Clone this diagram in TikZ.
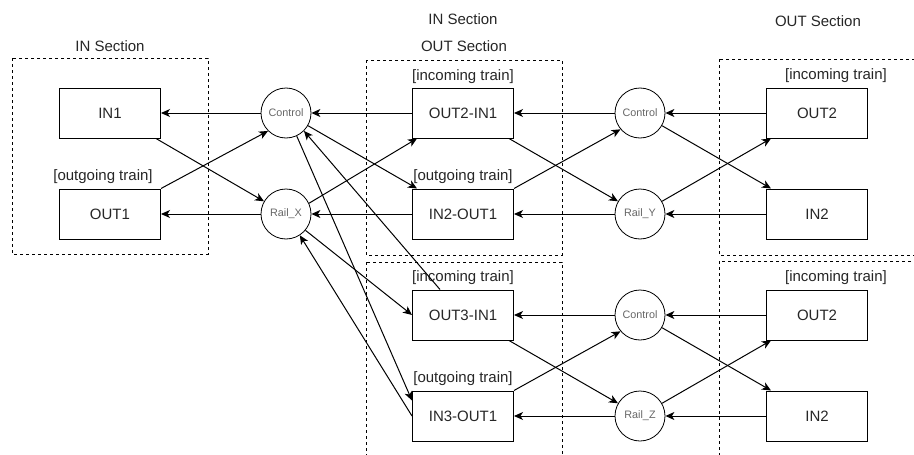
\documentclass[tikz,border=0pt]{standalone}
\usepackage{fontspec}
\setmainfont{Liberation Sans}
\usetikzlibrary{arrows.meta}
\begin{document}
\begin{tikzpicture}[x=1pt,y=-1pt,
  box/.style={draw, line width=1pt, minimum width=101pt, minimum height=50pt, inner sep=0pt,
    font=\fontsize{15}{18}\selectfont, text=black!85},
  hub/.style={draw, circle, line width=0.8pt, minimum size=50pt, inner sep=0pt,
    font=\fontsize{10.8}{12}\selectfont, text=black!60},
  section/.style={draw, dash pattern=on 3pt off 3pt, line width=1pt},
  caption/.style={font=\fontsize{15}{18}\selectfont, text=black!85, inner sep=0pt},
  link/.style={draw, line width=1pt, -{Stealth[length=9pt,width=8pt,inset=2.5pt]}},
]
\clip (0,0) rectangle (914,455);

% dashed section frames
\draw[section] (12,58) rectangle (208,254);
\draw[section] (366,60) rectangle (562,255);
\draw[section] (366,262) rectangle (562,470);
\draw[section] (719,59) rectangle (930,255);
\draw[section] (719,261) rectangle (930,470);

% section titles
\node[caption] (tInL) at (110,46) {IN Section};
\node[caption] (tInM) at (463,19) {IN Section};
\node[caption] (tOutM) at (464,46) {OUT Section};
\node[caption] (tOutR) at (818,21) {OUT Section};

% train direction captions
\node[caption] (capA) at (103,177) {[outgoing train]};
\node[caption] (capB) at (463,77) {[incoming train]};
\node[caption] (capC) at (463,177) {[outgoing train]};
\node[caption] (capD) at (836,76) {[incoming train]};
\node[caption] (capE) at (463,278) {[incoming train]};
\node[caption] (capF) at (463,379) {[outgoing train]};
\node[caption] (capG) at (836,278) {[incoming train]};

% blocks
\node[box] (in1)  at (110,113) {IN1};
\node[box] (out1) at (110,214) {OUT1};
\node[box] (b21)  at (463,113) {OUT2-IN1};
\node[box] (b12)  at (463,214) {IN2-OUT1};
\node[box] (o2a)  at (817,113) {OUT2};
\node[box] (i2a)  at (817,214) {IN2};
\node[box] (b13)  at (463,315) {OUT3-IN1};
\node[box] (b31)  at (463,416) {IN3-OUT1};
\node[box] (o2b)  at (817,315) {OUT2};
\node[box] (i2b)  at (817,416) {IN2};

% control and rail hubs
\node[hub] (c1) at (286,113) {Control};
\node[hub] (rx) at (286,214) {Rail\_X};
\node[hub] (c2) at (640,113) {Control};
\node[hub] (ry) at (640,214) {Rail\_Y};
\node[hub] (c3) at (640,315) {Control};
\node[hub] (rz) at (640,416) {Rail\_Z};

% left section
\draw[link] (c1.west) -- (in1.east);
\draw[link] ([xshift=-5pt]in1.south east) -- (rx.150);
\draw[link] (out1.north east) -- (c1.225);
\draw[link] (rx.west) -- (out1.east);

% upper middle section
\draw[link] (b21.west) -- (c1.east);
\draw[link] (rx.25) -- ([xshift=5pt]b21.south west);
\draw[link] (c1.-30) -- ([xshift=5pt]b12.north west);
\draw[link] (b12.west) -- (rx.east);
\draw[link] (c2.west) -- (b21.east);
\draw[link] ([xshift=-5pt]b21.south east) -- (ry.150);
\draw[link] (b12.north east) -- (c2.220);
\draw[link] (ry.west) -- (b12.east);

% upper right section
\draw[link] (o2a.west) -- (c2.east);
\draw[link] (c2.-30) -- ([xshift=5pt]i2a.north west);
\draw[link] (ry.30) -- ([xshift=5pt]o2a.south west);
\draw[link] (i2a.west) -- (ry.east);

% lower middle section
\draw[link] (c1.-65) -- ([yshift=-10pt]b31.north west);
\draw[link] ([xshift=-23pt]b13.north) -- (c1.-45);
\draw[link] (rx.-40) -- (b13.west);
\draw[link] (b31.west) -- (rx.-57);
\draw[link] (c3.west) -- (b13.east);
\draw[link] ([xshift=-5pt]b13.south east) -- (rz.150);
\draw[link] (b31.north east) -- (c3.220);
\draw[link] (rz.west) -- (b31.east);

% lower right section
\draw[link] (o2b.west) -- (c3.east);
\draw[link] (c3.-30) -- ([xshift=5pt]i2b.north west);
\draw[link] (rz.30) -- ([xshift=5pt]o2b.south west);
\draw[link] (i2b.west) -- (rz.east);
\end{tikzpicture}
\end{document}
